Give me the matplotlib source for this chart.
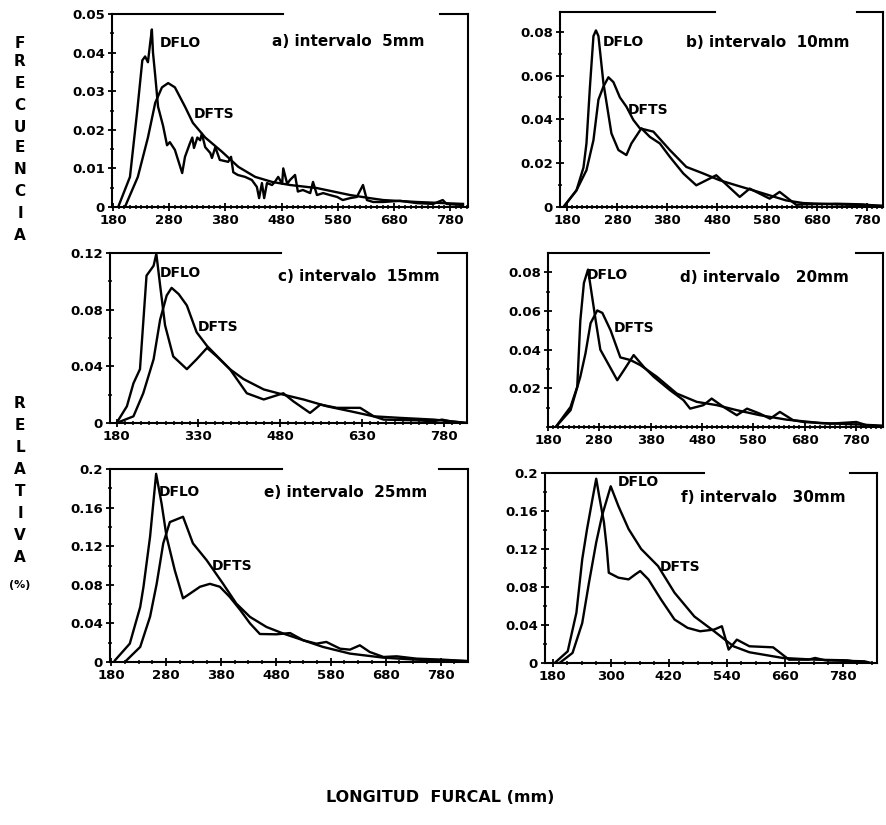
import matplotlib
matplotlib.use("Agg")
import matplotlib.pyplot as plt
from matplotlib.ticker import FixedLocator
import numpy as np

plt.rcParams['font.family'] = ['DejaVu Sans']
plt.rcParams['font.weight'] = 'bold'

# ---- data (mm, relative frequency) ----
# a) interval 5 mm
a_flo_x = [189, 210, 223, 232, 237, 242, 246, 249, 251, 255, 260, 269, 276, 281, 290, 303, 308, 317, 321, 324,
           330, 335, 338, 344, 353, 356, 362, 370, 385, 390, 394, 402, 415, 427, 436, 440, 445, 449, 454, 463,
           468, 474, 481, 483, 490, 495, 504, 509, 518, 531, 536, 543, 554, 566, 579, 589, 602, 614, 625, 632,
           643, 661, 691, 721, 750, 767, 774, 803]
a_flo_y = [0, 0.0078, 0.025, 0.038, 0.039, 0.0375, 0.0425, 0.046, 0.040, 0.034, 0.026, 0.021, 0.016, 0.0168, 0.0148, 0.0088, 0.013, 0.0166, 0.018, 0.0153,
           0.018, 0.0173, 0.019, 0.0155, 0.014, 0.0127, 0.0155, 0.0122, 0.0117, 0.013, 0.009, 0.0083, 0.0078, 0.007, 0.0052, 0.0023, 0.0062, 0.0023, 0.0062, 0.0057,
           0.0065, 0.0078, 0.006, 0.010, 0.006, 0.007, 0.0083, 0.004, 0.0044, 0.0036, 0.0065, 0.0031, 0.0036, 0.0031, 0.0026, 0.0018, 0.0023, 0.0026, 0.0057, 0.0018,
           0.0013, 0.0013, 0.0016, 0.001, 0.0008, 0.0018, 0.0008, 0.0005]
a_fts_x = [201, 224, 242, 255, 267, 278, 290, 308, 322, 344, 374, 403, 433, 463, 495, 543, 602, 637, 661, 721, 803]
a_fts_y = [0, 0.0078, 0.018, 0.027, 0.031, 0.0321, 0.031, 0.026, 0.0218, 0.018, 0.0143, 0.0104, 0.0078, 0.0065,
           0.0057, 0.0049, 0.0031, 0.0023, 0.0018, 0.0013, 0.0008]

# b) interval 10 mm
b_flo_x = [172, 198, 212, 218, 225, 232, 237, 242, 252, 268, 282, 298, 308, 328, 345, 365, 385, 412, 438, 478,
           525, 545, 585, 605, 638, 652, 718, 772, 812]
b_flo_y = [0, 0.0076, 0.018, 0.029, 0.055, 0.078, 0.0806, 0.078, 0.0565, 0.0336, 0.026, 0.0237, 0.029, 0.0359, 0.032,
           0.029, 0.0229, 0.0153, 0.0099, 0.0145, 0.0046, 0.0084, 0.0038, 0.0069, 0.001, 0.0012, 0.0015, 0.0012, 0.0003]
b_fts_x = [172, 198, 218, 232, 242, 252, 262, 272, 285, 298, 312, 325, 352, 385, 418, 452, 485, 518, 552, 585,
           618, 652, 718, 812]
b_fts_y = [0, 0.0076, 0.0168, 0.0305, 0.049, 0.055, 0.0592, 0.057, 0.050, 0.0458, 0.0397, 0.0359, 0.0344, 0.026,
           0.0183, 0.0153, 0.0122, 0.0099, 0.0076, 0.0053, 0.003, 0.0018, 0.0012, 0.0006]

# c) interval 15 mm
c_flo_x = [180, 199, 211, 223, 235, 248, 253, 260, 269, 284, 309, 327, 346, 364, 388, 419, 450, 486, 504, 535,
           554, 584, 627, 652, 670, 731, 762, 777, 793, 823]
c_flo_y = [0, 0.0118, 0.028, 0.038, 0.104, 0.111, 0.1195, 0.097, 0.069, 0.047, 0.038, 0.045, 0.053, 0.047, 0.038,
           0.021, 0.0166, 0.021, 0.0154, 0.0071, 0.013, 0.0107, 0.0107, 0.0047, 0.0024, 0.0019, 0.0012, 0.0024, 0.0012, 0]
c_fts_x = [180, 211, 229, 248, 260, 272, 281, 294, 309, 327, 346, 370, 388, 413, 450, 486, 523, 566, 609, 652,
           701, 762, 823]
c_fts_y = [0, 0.0047, 0.021, 0.045, 0.073, 0.090, 0.0954, 0.091, 0.083, 0.064, 0.0544, 0.045, 0.038, 0.031,
           0.0237, 0.020, 0.0166, 0.0118, 0.0083, 0.0047, 0.0036, 0.0024, 0]

# d) interval 20 mm
d_flo_x = [195, 224, 237, 243, 250, 258, 263, 273, 282, 315, 328, 347, 367, 386, 418, 444, 457, 483, 499, 522,
           548, 568, 593, 613, 632, 658, 678, 730, 781, 801, 833]
d_flo_y = [0, 0.0104, 0.0208, 0.055, 0.0745, 0.0814, 0.0727, 0.055, 0.040, 0.0242, 0.0294, 0.0372, 0.031, 0.026,
           0.019, 0.0139, 0.0095, 0.0113, 0.0147, 0.0104, 0.0061, 0.0095, 0.0069, 0.0043, 0.0078, 0.0035, 0.0026,
           0.0017, 0.0026, 0.0009, 0.0003]
d_fts_x = [195, 224, 243, 253, 263, 276, 286, 302, 321, 341, 360, 392, 431, 470, 509, 548, 593, 645, 710, 775, 833]
d_fts_y = [0, 0.0087, 0.026, 0.038, 0.0537, 0.0603, 0.059, 0.050, 0.036, 0.0346, 0.032, 0.026, 0.0173, 0.013,
           0.0113, 0.0087, 0.0061, 0.0038, 0.0021, 0.0014, 0.0007]

# e) interval 25 mm
e_flo_x = [187, 214, 233, 239, 251, 262, 272, 281, 296, 311, 324, 342, 360, 378, 396, 415, 433, 451, 481, 506,
           530, 554, 572, 597, 615, 633, 651, 676, 700, 736, 785, 827]
e_flo_y = [0.0017, 0.019, 0.057, 0.078, 0.130, 0.195, 0.164, 0.130, 0.095, 0.066, 0.071, 0.078, 0.081, 0.078,
           0.0675, 0.054, 0.040, 0.029, 0.0287, 0.030, 0.0225, 0.019, 0.0208, 0.0138, 0.0128, 0.0173, 0.0104,
           0.0052, 0.0059, 0.0035, 0.0024, 0.001]
e_fts_x = [205, 233, 251, 263, 275, 287, 311, 329, 354, 384, 408, 433, 463, 494, 530, 566, 615, 676, 736, 827]
e_fts_y = [0, 0.0156, 0.047, 0.081, 0.123, 0.145, 0.1505, 0.123, 0.1055, 0.081, 0.0606, 0.0467, 0.0363, 0.0294,
           0.0225, 0.0156, 0.0087, 0.0045, 0.0024, 0.001]

# f) interval 30 mm
f_flo_x = [184, 211, 229, 241, 251, 262, 270, 276, 286, 292, 296, 316, 337, 351, 361, 378, 404, 432, 459, 485,
           514, 530, 544, 561, 587, 636, 669, 709, 723, 744, 825, 839]
f_flo_y = [0, 0.0123, 0.053, 0.109, 0.141, 0.172, 0.194, 0.176, 0.148, 0.120, 0.095, 0.0898, 0.088, 0.0933, 0.0968,
           0.088, 0.0669, 0.0458, 0.037, 0.0334, 0.0352, 0.0387, 0.0141, 0.0246, 0.0176, 0.0165, 0.0035, 0.0035,
           0.0053, 0.0028, 0.0018, 0]
f_fts_x = [194, 221, 241, 255, 270, 282, 300, 316, 337, 363, 398, 432, 473, 514, 554, 587, 656, 723, 790, 825]
f_fts_y = [0, 0.0106, 0.042, 0.0845, 0.127, 0.155, 0.186, 0.165, 0.141, 0.120, 0.102, 0.074, 0.049, 0.0334,
           0.0176, 0.0113, 0.0053, 0.0035, 0.0028, 0]

# tick labels
x_ticks_100 = [180, 280, 380, 480, 580, 680, 780]
x_ticks_c = [180, 330, 480, 630, 780]
x_ticks_f = [180, 300, 420, 540, 660, 780]
y_ticks_a = [0, 0.01, 0.02, 0.03, 0.04, 0.05]
y_ticks_b = [0, 0.02, 0.04, 0.06, 0.08]
y_ticks_c = [0, 0.04, 0.08, 0.12]
y_ticks_d = [0.02, 0.04, 0.06, 0.08]
y_ticks_ef = [0, 0.04, 0.08, 0.12, 0.16, 0.2]

titles = ["a) intervalo  5mm", "b) intervalo  10mm", "c) intervalo  15mm",
          "d) intervalo   20mm", "e) intervalo  25mm", "f) intervalo   30mm"]

W, H = 887, 825
fig = plt.figure(figsize=(W / 100, H / 100), dpi=100)
fig.patch.set_facecolor('white')


def panel(box, xlim, ylim, xt, yt, xminor, yminor, flo, fts, title, pos_flo, pos_fts, pos_title):
    l, r, t, b = box
    ax = fig.add_axes([l / W, 1 - b / H, (r - l) / W, (b - t) / H])
    ax.plot(flo[0], flo[1], color='black', lw=1.7)
    ax.plot(fts[0], fts[1], color='black', lw=1.7)
    ax.set_xlim(*xlim)
    ax.set_ylim(*ylim)
    ax.set_xticks(xt)
    ax.set_xticklabels([str(v) for v in xt])
    ax.set_yticks(yt)
    ax.set_yticklabels(['0' if v == 0 else f'{v:g}' for v in yt])
    ax.xaxis.set_minor_locator(FixedLocator(np.arange(180, xlim[1], xminor)))
    ax.yaxis.set_minor_locator(FixedLocator(np.arange(0, ylim[1], yminor)))
    ax.tick_params(which='major', direction='inout', length=6, width=1.3, labelsize=9.5, pad=2)
    ax.tick_params(which='minor', direction='inout', length=3.5, width=1.1)
    for s in ['left', 'bottom', 'right']:
        ax.spines[s].set_linewidth(1.5)
    ax.spines['top'].set_visible(False)
    # broken top frame as in the scan
    ax.plot([0, 0.48], [1, 1], transform=ax.transAxes, color='black', lw=1.5, clip_on=False)
    ax.plot([0.92, 1.0], [1, 1], transform=ax.transAxes, color='black', lw=1.5, clip_on=False)
    for lbl in ax.get_xticklabels() + ax.get_yticklabels():
        lbl.set_fontweight('bold')
    ax.text(pos_flo[0], pos_flo[1], "DFLO", transform=ax.transAxes, fontsize=10, fontweight='bold',
            ha='left', va='center')
    ax.text(pos_fts[0], pos_fts[1], "DFTS", transform=ax.transAxes, fontsize=10, fontweight='bold',
            ha='left', va='center')
    ax.text(pos_title[0], pos_title[1], title, transform=ax.transAxes, fontsize=11, fontweight='bold',
            ha='left', va='center')
    return ax


panel((112, 468, 14, 207), (178, 812), (0, 0.05), x_ticks_100, y_ticks_a, 10, 0.005,
      (a_flo_x, a_flo_y), (a_fts_x, a_fts_y), titles[0], (0.135, 0.85), (0.23, 0.48), (0.45, 0.855))
panel((560, 883, 12, 207), (165, 812), (0, 0.089), x_ticks_100, y_ticks_b, 10, 0.01,
      (b_flo_x, b_flo_y), (b_fts_x, b_fts_y), titles[1], (0.133, 0.846), (0.21, 0.50), (0.39, 0.846))
panel((110, 467, 253, 423), (168, 823), (0, 0.12), x_ticks_c, y_ticks_c, 15, 0.02,
      (c_flo_x, c_flo_y), (c_fts_x, c_fts_y), titles[2], (0.14, 0.88), (0.245, 0.565), (0.47, 0.86))
panel((548, 883, 253, 427), (180, 833), (0, 0.09), x_ticks_100, y_ticks_d, 10, 0.01,
      (d_flo_x, d_flo_y), (d_fts_x, d_fts_y), titles[3], (0.115, 0.874), (0.195, 0.57), (0.395, 0.86))
panel((110, 468, 469, 662), (178, 830), (0, 0.2), x_ticks_100, y_ticks_ef, 25, 0.02,
      (e_flo_x, e_flo_y), (e_fts_x, e_fts_y), titles[4], (0.135, 0.88), (0.285, 0.50), (0.43, 0.88))
panel((545, 877, 473, 663), (164, 851), (0, 0.2), x_ticks_f, y_ticks_ef, 30, 0.02,
      (f_flo_x, f_flo_y), (f_fts_x, f_fts_y), titles[5], (0.22, 0.955), (0.345, 0.505), (0.41, 0.87))

# vertical axis title, one letter per line
letters_top = ["F", "R", "E", "C", "U", "E", "N", "C", "I", "A"]
letters_bot = ["R", "E", "L", "A", "T", "I", "V", "A"]
y_top = [43, 62, 84, 105, 127, 148, 170, 192, 213, 235]
y_bot = [403, 425, 447, 470, 492, 514, 536, 558]
for ch, yy in zip(letters_top + letters_bot, y_top + y_bot):
    fig.text(20 / W, 1 - yy / H, ch, fontsize=11, fontweight='bold', ha='center', va='center')
fig.text(20 / W, 1 - 585 / H, "(%)", fontsize=8, fontweight='bold', ha='center', va='center')

fig.text(440 / W, 1 - 797 / H, "LONGITUD  FURCAL (mm)", fontsize=11.5, fontweight='bold',
         ha='center', va='center')

fig.savefig("out.png", dpi=100, facecolor='white')
